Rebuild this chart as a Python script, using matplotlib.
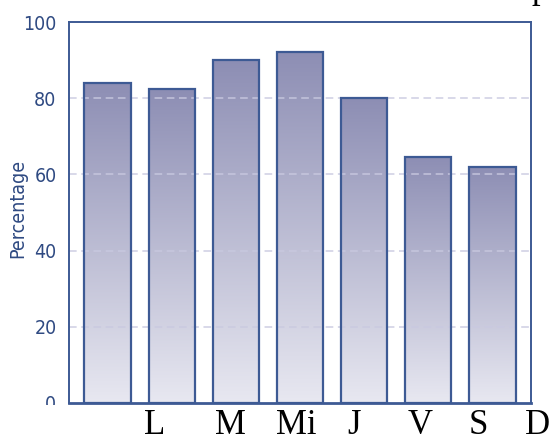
import numpy as np
import matplotlib
matplotlib.use("Agg")
import matplotlib.pyplot as plt
from matplotlib.colors import LinearSegmentedColormap
from matplotlib.patches import Rectangle

# Data
days = ["L", "M", "Mi", "J", "V", "S", "D"]
percentages = [84, 82.4, 90, 92, 80, 64.6, 62]
y_ticks = [0, 20, 40, 60, 80, 100]

edge_col = "#3d5a94"
text_col = "#2f4a82"
grid_col = "#c9c9e0"
bar_cmap = LinearSegmentedColormap.from_list("barfade", ["#e8e8f1", "#8d8eb4"])

fig = plt.figure(figsize=(5.52, 4.41), dpi=100)
ax = fig.add_axes([69 / 552, 1 - 403 / 441, 462 / 552, 381 / 441])

x = np.arange(len(percentages))
width = 0.72
grad = np.linspace(0, 1, 256).reshape(-1, 1)
for xi, v in zip(x, percentages):
    ax.imshow(grad, extent=(xi - width / 2, xi + width / 2, 0, v), origin="lower",
              cmap=bar_cmap, aspect="auto", zorder=1, interpolation="bilinear")
ax.bar(x, percentages, width=width, facecolor="none", edgecolor=edge_col,
       linewidth=1.6, zorder=3)

ax.set_xlim(-0.6, 6.6)
ax.set_ylim(0, 100)
ax.set_yticks(y_ticks)
ax.set_xticks([])
for yv in y_ticks[1:-1]:
    ax.axhline(yv, color=grid_col, linestyle=(0, (5, 3)), linewidth=1.1, zorder=2, alpha=0.9)

for s in ax.spines.values():
    s.set_color(edge_col)
    s.set_linewidth(1.4)
ax.spines["bottom"].set_linewidth(2.0)

ax.tick_params(axis="y", length=0, pad=9, labelcolor=text_col)
for lbl in ax.get_yticklabels():
    lbl.set_fontfamily("DejaVu Sans")
    lbl.set_fontstretch("condensed")
    lbl.set_fontsize(14)
ax.set_ylabel("Percentage", color=text_col, fontsize=14,
              fontfamily="DejaVu Sans", fontstretch="condensed")
ax.yaxis.set_label_coords(-0.091, 0.51)

# white band along the bottom edge with the day labels
fig.patches.append(Rectangle((0, 0), 1, 1 - 404.5 / 441, transform=fig.transFigure,
                             facecolor="white", edgecolor="none", zorder=5))
day_x = [155, 230, 296, 354, 420, 478, 537]
for px, d in zip(day_x, days):
    fig.text(px / 552, 1 - 434 / 441, d, ha="center", va="baseline",
             fontsize=25, fontfamily=["Liberation Serif", "DejaVu Serif"],
             color="black", zorder=6)
fig.text(540 / 552, 1 + 2 / 441, "p", ha="center", va="baseline",
         fontsize=25, fontfamily=["Liberation Serif", "DejaVu Serif"], color="black")

fig.savefig("out.png", dpi=100)
